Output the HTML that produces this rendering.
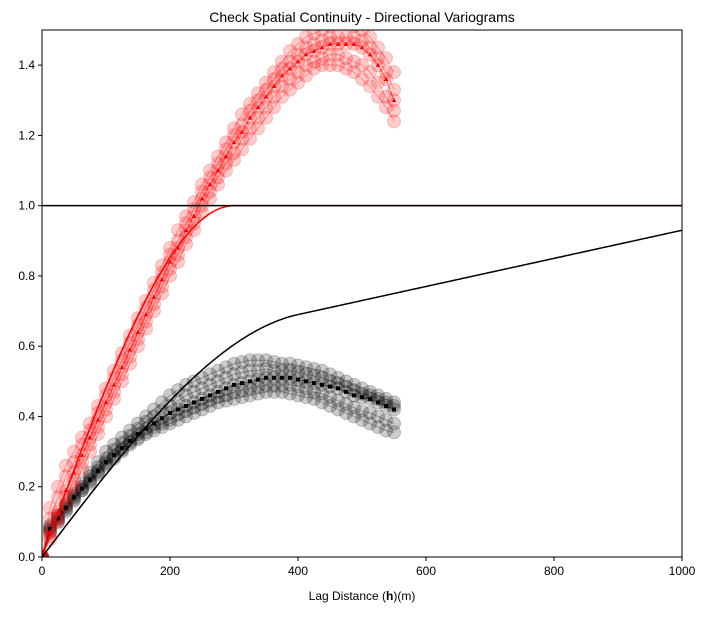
<!DOCTYPE html>
<html><head><meta charset="utf-8"><style>
body{margin:0;background:#fff;}
svg text{font-family:"Liberation Sans",sans-serif;font-size:12px;fill:#000;}
</style></head><body>
<svg id="chart" width="709" height="615" xmlns="http://www.w3.org/2000/svg">
<defs><clipPath id="clip"><rect x="42" y="30" width="640" height="527"/></clipPath></defs>
<rect x="0" y="0" width="709" height="615" fill="#fff"/>
<text x="362" y="22" text-anchor="middle" style="font-size:14px">Check Spatial Continuity - Directional Variograms</text>
<g id="plot" clip-path="url(#clip)"></g>
<g id="axes"></g>
<text x="362" y="600" text-anchor="middle">Lag Distance (<tspan font-weight="bold">h</tspan>)(m)</text>
</svg>
<script>
const lags = [];
for (let i = 0; i <= 44; i++) lags.push(i * 12.5);
const redUpper = [0,0.14,0.20,0.26,0.30,0.34,0.38,0.43,0.48,0.53,0.58,0.63,0.68,0.73,0.78,0.83,0.88,0.93,0.97,1.01,1.06,1.10,1.14,1.18,1.22,1.26,1.29,1.32,1.35,1.38,1.41,1.44,1.46,1.48,1.49,1.50,1.51,1.52,1.52,1.51,1.50,1.48,1.45,1.42,1.38];
const redUpperMid = [0,0.11,0.17,0.23,0.27,0.32,0.36,0.41,0.46,0.51,0.56,0.61,0.66,0.71,0.76,0.81,0.86,0.90,0.95,0.99,1.04,1.08,1.12,1.16,1.20,1.23,1.27,1.30,1.33,1.36,1.39,1.41,1.43,1.45,1.46,1.47,1.48,1.48,1.48,1.48,1.47,1.45,1.42,1.38,1.33];
const redMean = [0,0.07,0.13,0.19,0.24,0.29,0.34,0.39,0.44,0.49,0.54,0.59,0.64,0.69,0.74,0.79,0.84,0.88,0.93,0.97,1.02,1.06,1.10,1.14,1.18,1.21,1.25,1.28,1.31,1.34,1.37,1.39,1.41,1.43,1.44,1.45,1.46,1.46,1.46,1.46,1.45,1.43,1.40,1.36,1.30];
const redLowerMid = [0,0.06,0.11,0.17,0.22,0.27,0.32,0.37,0.42,0.47,0.52,0.57,0.62,0.67,0.72,0.77,0.82,0.86,0.91,0.95,1.00,1.04,1.08,1.12,1.15,1.19,1.22,1.25,1.28,1.31,1.34,1.36,1.38,1.40,1.41,1.42,1.43,1.43,1.42,1.41,1.40,1.38,1.35,1.31,1.27];
const redLower = [0,0.05,0.10,0.15,0.20,0.25,0.30,0.35,0.40,0.45,0.50,0.55,0.60,0.65,0.70,0.75,0.80,0.84,0.89,0.93,0.98,1.02,1.06,1.10,1.13,1.16,1.19,1.22,1.25,1.28,1.31,1.33,1.35,1.37,1.39,1.40,1.40,1.40,1.39,1.38,1.36,1.34,1.31,1.28,1.24];
const blackUpper = [0,0.09,0.12,0.15,0.18,0.21,0.24,0.27,0.30,0.32,0.34,0.36,0.38,0.40,0.42,0.44,0.46,0.475,0.49,0.50,0.51,0.52,0.53,0.54,0.55,0.555,0.56,0.56,0.56,0.555,0.55,0.55,0.545,0.54,0.535,0.53,0.52,0.51,0.50,0.49,0.48,0.47,0.46,0.45,0.44];
const blackUpperMid = [0,0.085,0.115,0.145,0.175,0.20,0.23,0.255,0.28,0.305,0.325,0.345,0.365,0.385,0.40,0.415,0.43,0.445,0.46,0.47,0.48,0.49,0.50,0.51,0.52,0.525,0.53,0.53,0.535,0.53,0.53,0.53,0.525,0.52,0.515,0.51,0.50,0.495,0.485,0.475,0.465,0.46,0.45,0.44,0.43];
const blackMean = [0,0.08,0.11,0.14,0.17,0.195,0.22,0.245,0.27,0.29,0.31,0.33,0.35,0.365,0.38,0.395,0.41,0.42,0.43,0.44,0.45,0.46,0.47,0.48,0.49,0.495,0.50,0.505,0.51,0.51,0.51,0.51,0.505,0.50,0.495,0.49,0.485,0.48,0.47,0.46,0.455,0.45,0.44,0.43,0.42];
const blackLowerMid = [0,0.075,0.105,0.135,0.165,0.19,0.215,0.24,0.265,0.285,0.305,0.325,0.34,0.355,0.37,0.38,0.39,0.405,0.415,0.425,0.435,0.445,0.455,0.46,0.47,0.475,0.48,0.485,0.49,0.49,0.49,0.49,0.485,0.48,0.47,0.465,0.455,0.445,0.435,0.425,0.415,0.41,0.40,0.39,0.38];
const blackLower = [0,0.07,0.10,0.13,0.16,0.19,0.21,0.235,0.26,0.28,0.30,0.32,0.335,0.35,0.36,0.37,0.38,0.39,0.40,0.41,0.42,0.43,0.44,0.445,0.45,0.455,0.46,0.465,0.47,0.47,0.47,0.465,0.46,0.455,0.45,0.44,0.43,0.42,0.41,0.40,0.39,0.38,0.37,0.36,0.355];
const xTicks = [0,200,400,600,800,1000];
const yTicks = [0,0.2,0.4,0.6,0.8,1.0,1.2,1.4];
const redModel = {range: 300, sill: 1.0};
const blackModel = {c1: 0.53, range1: 400, c2: 0.40, range2: 1000};

const NS = "http://www.w3.org/2000/svg";
const X = v => 42 + v / 1000 * 640;
const Y = v => 557 - v / 1.5 * 527;
const plot = document.getElementById('plot');
const axes = document.getElementById('axes');
function mk(tag, attrs, parent) {
  const e = document.createElementNS(NS, tag);
  for (const k in attrs) e.setAttribute(k, attrs[k]);
  parent.appendChild(e);
  return e;
}
function sph(h, a) { if (h >= a) return 1; const r = h / a; return 1.5 * r - 0.5 * r * r * r; }

function series(vals, color, name) {
  const pts = lags.map((l, i) => X(l) + ',' + Y(vals[i])).join(' ');
  const pl = mk('polyline', {points: pts, fill: 'none', stroke: color, 'stroke-width': 1, opacity: 0.3}, plot);
  
  
  lags.forEach((l, i) => {
    const c = mk('circle', {cx: X(l), cy: Y(vals[i]), r: 6.5, fill: color, 'fill-opacity': 0.2, stroke: color, 'stroke-opacity': 0.2}, plot);
    
    
  });
}
function meanSeries(vals, color, shape, name) {
  const pts = lags.map((l, i) => X(l) + ',' + Y(vals[i])).join(' ');
  const pl = mk('polyline', {points: pts, fill: 'none', stroke: color, 'stroke-width': 1, 'stroke-dasharray': '3,3', opacity: 0.6}, plot);
  
  
  lags.forEach((l, i) => {
    const x = X(l), y = Y(vals[i]);
    let m;
    if (shape === 'tri') m = mk('polygon', {points: `${x},${y-2.5} ${x-2.3},${y+1.8} ${x+2.3},${y+1.8}`, fill: color}, plot);
    else m = mk('rect', {x: x - 2, y: y - 2, width: 4, height: 4, fill: color}, plot);
    
    
  });
}
series(blackUpper, '#000', 'black-realization-upper');
series(blackUpperMid, '#000', 'black-realization-upper-mid');
series(blackMean, '#000', 'black-realization-mid');
series(blackLowerMid, '#000', 'black-realization-lower-mid');
series(blackLower, '#000', 'black-realization-lower');
series(redUpper, '#f00', 'red-realization-upper');
series(redUpperMid, '#f00', 'red-realization-upper-mid');
series(redMean, '#f00', 'red-realization-mid');
series(redLowerMid, '#f00', 'red-realization-lower-mid');
series(redLower, '#f00', 'red-realization-lower');
meanSeries(blackMean, '#000', 'sq', 'black-mean');
meanSeries(redMean, '#f00', 'tri', 'red-mean');

// models
let rp = [], bp = [];
for (let h = 0; h <= 1000; h += 5) {
  rp.push(X(h) + ',' + Y(redModel.sill * sph(h, redModel.range)));
  bp.push(X(h) + ',' + Y(blackModel.c1 * sph(h, blackModel.range1) + blackModel.c2 * h / blackModel.range2));
}
const rm = mk('polyline', {points: rp.join(' '), fill: 'none', stroke: '#f00', 'stroke-width': 1.5}, plot);


const bm = mk('polyline', {points: bp.join(' '), fill: 'none', stroke: '#000', 'stroke-width': 1.5}, plot);


const sl = mk('line', {x1: 42, x2: 682, y1: Y(1), y2: Y(1), stroke: '#000', 'stroke-width': 1.5}, plot);



// axes
const frame = mk('rect', {x: 42, y: 30, width: 640, height: 527, fill: 'none', stroke: '#000', 'stroke-width': 1}, axes);


xTicks.forEach(t => {
  mk('line', {x1: X(t), x2: X(t), y1: 557, y2: 561, stroke: '#000'}, axes);
  const tx = mk('text', {x: X(t), y: 575, 'text-anchor': 'middle'}, axes);
  tx.textContent = t;
  
  
});
yTicks.forEach(t => {
  mk('line', {x1: 38, x2: 42, y1: Y(t), y2: Y(t), stroke: '#000'}, axes);
  const tx = mk('text', {x: 35, y: Y(t) + 4, 'text-anchor': 'end'}, axes);
  tx.textContent = t.toFixed(1);
  
  
});
</script>
</body></html>
